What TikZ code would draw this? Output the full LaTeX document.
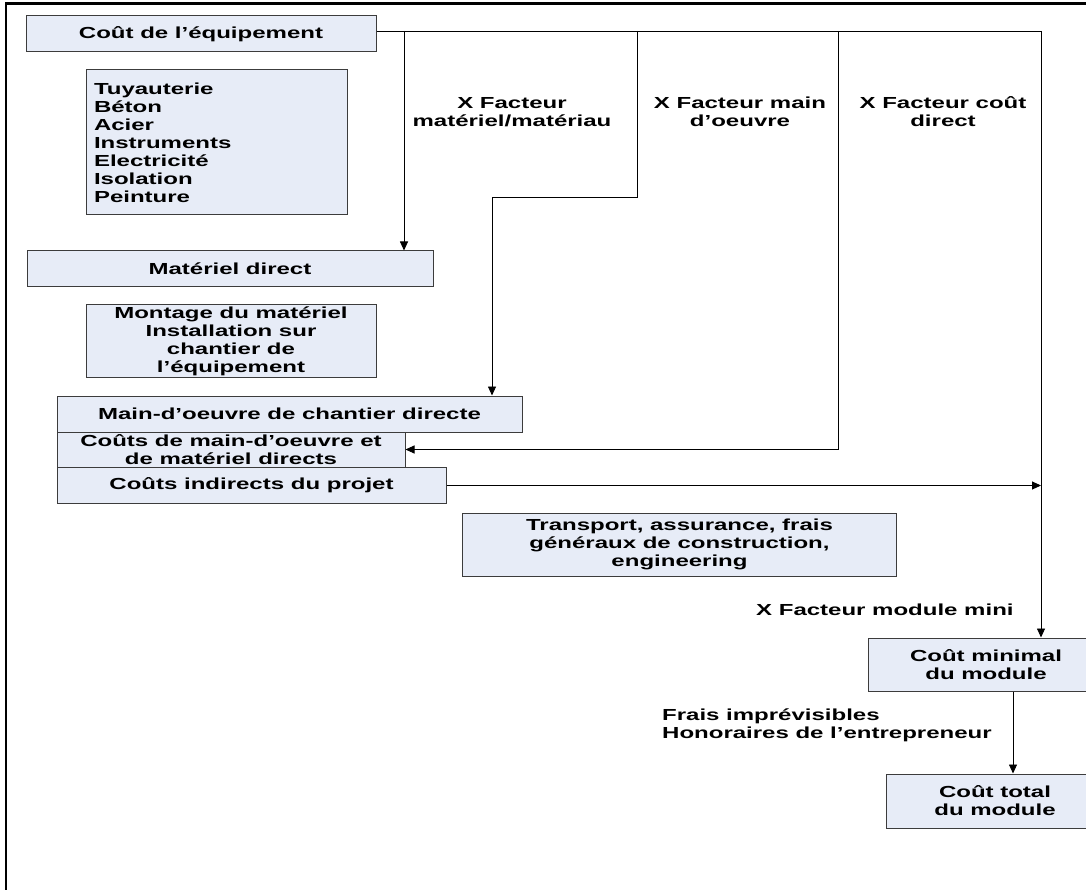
\documentclass[tikz,border=0pt]{standalone}
\usepackage{fontspec}
\setmainfont{Liberation Sans}[FakeStretch=1.5]
\usetikzlibrary{arrows.meta}
\definecolor{boxfill}{RGB}{231,236,247}
\definecolor{boxline}{RGB}{60,60,60}
\tikzset{
  txt/.style={font=\bfseries\fontsize{16}{18}\selectfont, inner sep=0pt, align=center},
  box/.style={txt, draw=boxline, fill=boxfill, line width=1pt},
  conn/.style={draw=black, line width=0.9pt},
  arr/.style={conn, -{Triangle[length=9pt,width=8pt]}},
  frameline/.style={draw=black, line width=2.2pt}
}
\begin{document}
\begin{tikzpicture}[x=1pt,y=-1pt]
\useasboundingbox (0,0) rectangle (1086,890);
\clip (0,0) rectangle (1086,890);
\fill[white] (0,0) rectangle (1086,890);
\draw[frameline] (6,1000) -- (6,3.5) -- (1200,3.5);

% boxes
\node[box, minimum width=350pt, minimum height=36pt] (equip) at (201,34) {Coût de l’équipement};
\node[box, minimum width=261pt, minimum height=145pt, text width=245pt, align=left] (tuy) at (216.5,142.5)
  {Tuyauterie\\Béton\\Acier\\Instruments\\Electricité\\Isolation\\Peinture};
\node[box, minimum width=406pt, minimum height=36pt] (matdir) at (230,269) {Matériel direct};
\node[box, minimum width=290pt, minimum height=72pt] (mont) at (231,341)
  {Montage du matériel\\Installation sur\\chantier de\\l’équipement};
\node[box, minimum width=465pt, minimum height=36pt] (mo) at (289.5,414) {Main-d’oeuvre de chantier directe};
\node[box, minimum width=348pt, minimum height=35pt] (cd) at (231,449.5)
  {Coûts de main-d’oeuvre et\\de matériel directs};
\node[box, minimum width=389pt, minimum height=36pt] (ci) at (251.5,485.5) {Coûts indirects du projet};
\node[box, minimum width=434pt, minimum height=63pt] (tr) at (679.5,544.5)
  {Transport, assurance, frais\\généraux de construction,\\engineering};
\node[box, minimum width=236pt, minimum height=53pt] (cmin) at (986,664.5) {Coût minimal\\du module};
\node[box, minimum width=218pt, minimum height=54pt] (ctot) at (995,801) {Coût total\\du module};

% labels
\node[txt] (l1) at (512,112) {X Facteur\\matériel/matériau};
\node[txt] (l2) at (740,112) {X Facteur main\\d’oeuvre};
\node[txt] (l3) at (943,112) {X Facteur coût\\direct};
\node[txt, anchor=west] (l4) at (756,610) {X Facteur module mini};
\node[txt, align=left, anchor=west] (l5) at (662,725.5) {Frais imprévisibles\\Honoraires de l’entrepreneur};

% junction coordinates
\coordinate (c1) at (404,31);
\coordinate (c2) at (637,31);
\coordinate (c3) at (838,31);
\coordinate (c4) at (1041,31);
\coordinate (s1) at (637,197);
\coordinate (s2) at (492,197);
\coordinate (c5) at (1013,0);

% connectors
\draw[conn] (equip.east |- c1) -- (c4);
\draw[arr] (c1) -- (c1 |- matdir.north);
\draw[arr] (c2) -- (s1) -- (s2) -- (s2 |- mo.north);
\draw[arr] (c3) -- (c3 |- cd.east) -- (cd.east);
\draw[arr] (c4) -- (c4 |- cmin.north);
\draw[arr] (ci.east) -- (ci.east -| c4);
\draw[arr] (cmin.south -| c5) -- (ctot.north -| c5);
\end{tikzpicture}
\end{document}
